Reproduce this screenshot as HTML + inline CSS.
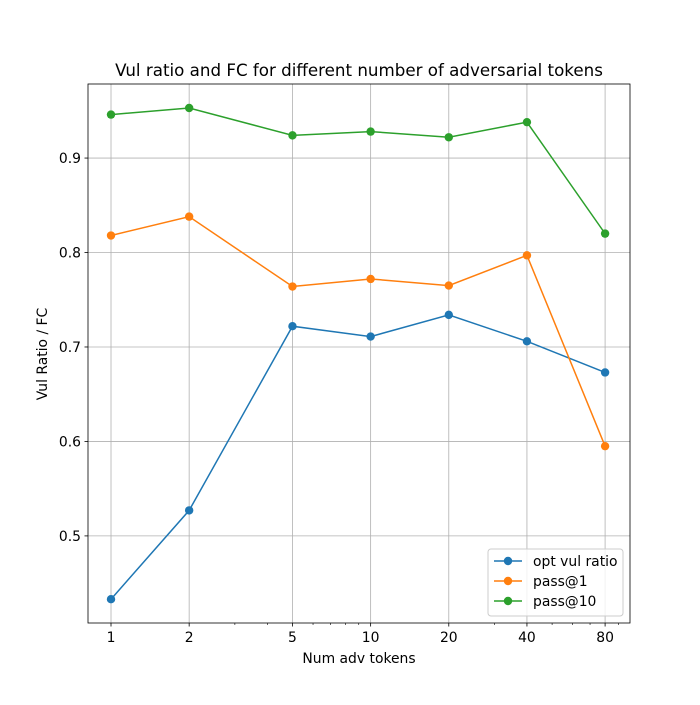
<!DOCTYPE html>
<html><head><meta charset="utf-8"><style>body{margin:0;background:#fff}svg{font-family:"DejaVu Sans","Liberation Sans",sans-serif}</style></head>
<body>
<svg id="c" width="700" height="700" xmlns="http://www.w3.org/2000/svg"></svg>
<script>
const categories=[1,2,5,10,20,40,80];
const optVul=[0.433,0.527,0.722,0.711,0.734,0.706,0.673];
const pass1=[0.818,0.838,0.764,0.772,0.765,0.797,0.595];
const pass10=[0.946,0.953,0.924,0.928,0.922,0.938,0.820];
const yTicks=[0.5,0.6,0.7,0.8,0.9];
const minorTicks=[3,4,6,7,8,9,30,50,60,70,90];
const svg=document.getElementById('c');const NS='http://www.w3.org/2000/svg';
const L=88,R=630,T=84,B=623;
const xmin=-0.0886,xmax=1.999,ymin=0.4078,ymax=0.9784;
const X=v=>L+(Math.log10(v)-xmin)/(xmax-xmin)*(R-L);
const Y=v=>B-(v-ymin)/(ymax-ymin)*(B-T);
function el(t,a,p){const e=document.createElementNS(NS,t);for(const k in a)e.setAttribute(k,a[k]);(p||svg).appendChild(e);return e;}
const grid=el('g',{});
categories.forEach(c=>{const x=X(c);el('line',{x1:x,x2:x,y1:T,y2:B,stroke:'#b0b0b0','stroke-width':0.8},grid);
el('line',{x1:x,x2:x,y1:B,y2:B+3.5,stroke:'#000','stroke-width':0.8});
const t=el('text',{x:x,y:B+19,'text-anchor':'middle','font-size':13.9});t.textContent=c;
});
minorTicks.forEach(c=>{const x=X(c);el('line',{x1:x,x2:x,y1:B,y2:B+2,stroke:'#000','stroke-width':0.6});});
yTicks.forEach(v=>{const y=Y(v);el('line',{x1:L,x2:R,y1:y,y2:y,stroke:'#b0b0b0','stroke-width':0.8},grid);
el('line',{x1:L-3.5,x2:L,y1:y,y2:y,stroke:'#000','stroke-width':0.8});
const t=el('text',{x:L-7,y:y+5,'text-anchor':'end','font-size':13.9});t.textContent=v.toFixed(1);
});
const series=[[optVul,'#1f77b4','opt-vul-ratio-line'],[pass1,'#ff7f0e','pass-at-1-line'],[pass10,'#2ca02c','pass-at-10-line']];
series.forEach(([d,c,n])=>{const g=el('g',{});
el('polyline',{points:d.map((v,i)=>X(categories[i])+','+Y(v)).join(' '),fill:'none',stroke:c,'stroke-width':1.5},g);
d.forEach((v,i)=>{const p=el('circle',{cx:X(categories[i]),cy:Y(v),r:4.2,fill:c},g);});});
const fr=el('rect',{x:L,y:T,width:R-L,height:B-T,fill:'none',stroke:'#000','stroke-width':0.8});
let t=el('text',{x:359,y:76,'text-anchor':'middle','font-size':16.7});t.textContent='Vul ratio and FC for different number of adversarial tokens';
t=el('text',{x:359,y:663,'text-anchor':'middle','font-size':13.9});t.textContent='Num adv tokens';
t=el('text',{x:47,y:354,'text-anchor':'middle','font-size':13.9,transform:'rotate(-90 47 354)'});t.textContent='Vul Ratio / FC';
const lg=el('g',{});
el('rect',{x:488,y:549,width:135,height:67,rx:3,fill:'#fff','fill-opacity':0.8,stroke:'#ccc'},lg);
[['opt vul ratio','#1f77b4'],['pass@1','#ff7f0e'],['pass@10','#2ca02c']].forEach(([n,c],i)=>{const y=561+i*20;
const e=el('g',{},lg);
el('line',{x1:494,x2:522,y1:y,y2:y,stroke:c,'stroke-width':1.5},e);el('circle',{cx:508,cy:y,r:4.2,fill:c},e);
const tx=el('text',{x:533,y:y+5,'font-size':13.9},e);tx.textContent=n;});
</script>
</body></html>
